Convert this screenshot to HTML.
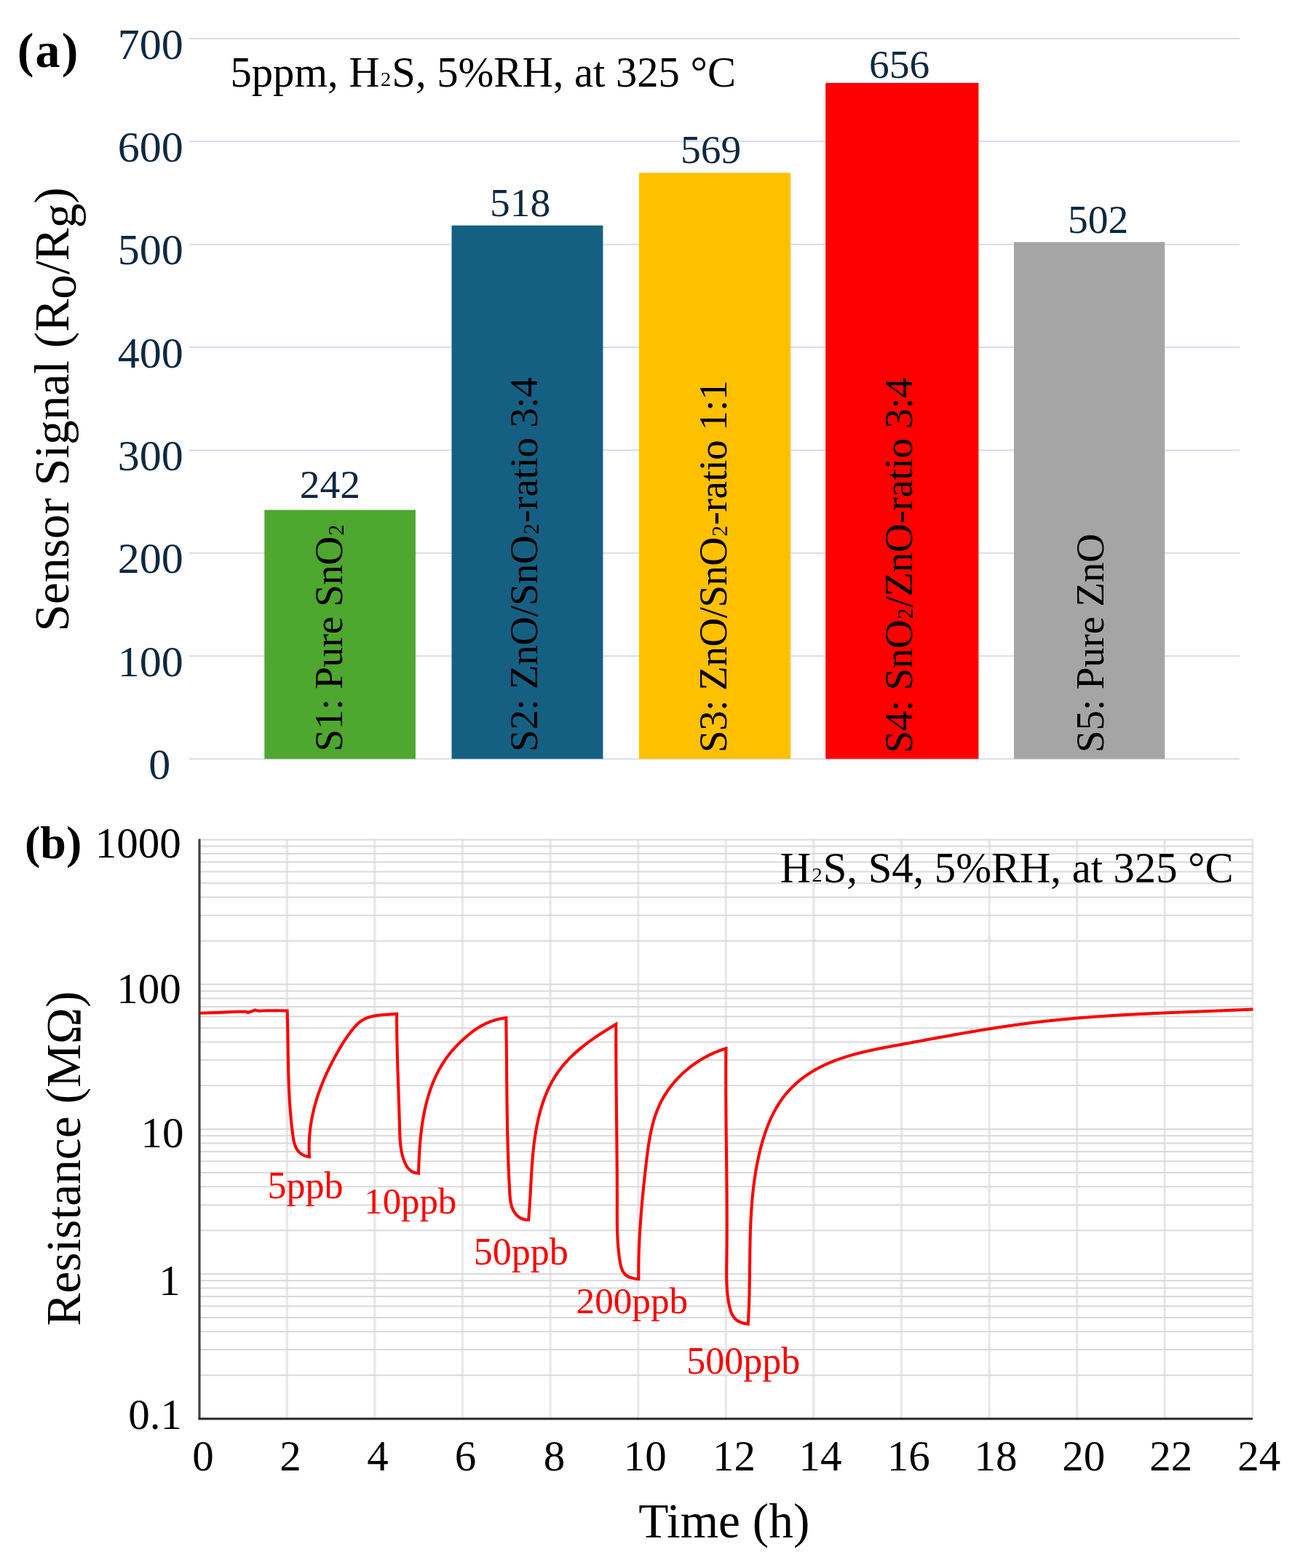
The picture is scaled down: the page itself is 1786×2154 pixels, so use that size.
<!DOCTYPE html>
<html><head><meta charset="utf-8"><style>
html,body{margin:0;padding:0;background:#fff;}
svg{display:block;}
text{font-family:"Liberation Serif","Times New Roman",serif;}
</style></head><body>
<svg width="1786" height="2154" viewBox="0 0 1786 2154">
<rect width="1786" height="2154" fill="#fff"/>
<line x1="259.7" y1="1042.50" x2="1703" y2="1042.50" stroke="#D5DDEC" stroke-width="2"/>
<line x1="259.7" y1="901.13" x2="1703" y2="901.13" stroke="#D5DDEC" stroke-width="2"/>
<line x1="259.7" y1="759.76" x2="1703" y2="759.76" stroke="#D5DDEC" stroke-width="2"/>
<line x1="259.7" y1="618.39" x2="1703" y2="618.39" stroke="#D5DDEC" stroke-width="2"/>
<line x1="259.7" y1="477.02" x2="1703" y2="477.02" stroke="#D5DDEC" stroke-width="2"/>
<line x1="259.7" y1="335.64" x2="1703" y2="335.64" stroke="#D5DDEC" stroke-width="2"/>
<line x1="259.7" y1="194.27" x2="1703" y2="194.27" stroke="#D5DDEC" stroke-width="2"/>
<line x1="259.7" y1="52.90" x2="1703" y2="52.90" stroke="#D5DDEC" stroke-width="2"/>
<rect x="363.3" y="700.50" width="207.60" height="342.00" fill="#4EA72E"/>
<rect x="620.5" y="309.70" width="207.90" height="732.80" fill="#156082"/>
<rect x="877.9" y="237.40" width="208.20" height="805.10" fill="#FFC000"/>
<rect x="1134.2" y="113.90" width="210.20" height="928.60" fill="#FF0000"/>
<rect x="1393.0" y="332.50" width="207.20" height="710.00" fill="#A5A5A5"/>
<text x="161.79" y="928.83" font-size="60" fill="#0E2841">100</text>
<text x="161.79" y="787.46" font-size="60" fill="#0E2841">200</text>
<text x="161.79" y="646.09" font-size="60" fill="#0E2841">300</text>
<text x="161.79" y="504.72" font-size="60" fill="#0E2841">400</text>
<text x="161.79" y="363.34" font-size="60" fill="#0E2841">500</text>
<text x="161.79" y="221.97" font-size="60" fill="#0E2841">600</text>
<text x="161.79" y="80.60" font-size="60" fill="#0E2841">700</text>
<text x="204.31" y="1070.00" font-size="60" fill="#0E2841" >0</text>
<text x="411.66" y="684.00" font-size="55.5" fill="#0E2841" >242</text>
<text x="672.98" y="296.80" font-size="55.5" fill="#0E2841" >518</text>
<text x="935.08" y="224.00" font-size="55.5" fill="#0E2841" >569</text>
<text x="1194.12" y="106.80" font-size="55.5" fill="#0E2841" >656</text>
<text x="1467.08" y="319.60" font-size="55.5" fill="#0E2841" >502</text>
<text transform="translate(470.40,1032.58) rotate(-90)" font-size="55" fill="#000" letter-spacing="-0.33">S1: Pure SnO<tspan font-size="50" dy="-8.7">₂</tspan><tspan dy="8.7"></tspan></text>
<text transform="translate(738.40,1032.88) rotate(-90)" font-size="55" fill="#000" letter-spacing="-0.33">S2: ZnO/SnO<tspan font-size="50" dy="-8.7">₂</tspan><tspan dy="8.7">-ratio 3:4</tspan></text>
<text transform="translate(997.70,1033.88) rotate(-90)" font-size="55" fill="#000" letter-spacing="-0.48">S3: ZnO/SnO<tspan font-size="50" dy="-8.7">₂</tspan><tspan dy="8.7">-ratio 1:1</tspan></text>
<text transform="translate(1253.10,1034.58) rotate(-90)" font-size="55" fill="#000" letter-spacing="-0.29">S4: SnO<tspan font-size="50" dy="-8.7">₂</tspan><tspan dy="8.7">/ZnO-ratio 3:4</tspan></text>
<text transform="translate(1515.60,1033.88) rotate(-90)" font-size="55" fill="#000" letter-spacing="-0.14">S5: Pure ZnO</text>
<text x="316.50" y="119.00" font-size="58.6" fill="#000" >5ppm, H<tspan font-size="48" dy="-9.8">₂</tspan><tspan dy="9.8">S, 5%RH, at 325 °C</tspan></text>
<text x="23.71" y="92.00" font-size="68" fill="#000" font-weight="bold" letter-spacing="2.2">(a)</text>
<text transform="translate(94.00,867.51) rotate(-90)" font-size="67.4" fill="#000">Sensor Signal (R<tspan dy="9.8">o</tspan><tspan dy="-9.8">/R</tspan><tspan dy="9.8">g</tspan><tspan dy="-9.8">)</tspan></text>
<line x1="394.21" y1="1153.4" x2="394.21" y2="1949.00" stroke="#E9E9E9" stroke-width="3.5"/>
<line x1="514.82" y1="1153.4" x2="514.82" y2="1949.00" stroke="#E9E9E9" stroke-width="3.5"/>
<line x1="635.43" y1="1153.4" x2="635.43" y2="1949.00" stroke="#E9E9E9" stroke-width="3.5"/>
<line x1="756.03" y1="1153.4" x2="756.03" y2="1949.00" stroke="#E9E9E9" stroke-width="3.5"/>
<line x1="876.64" y1="1153.4" x2="876.64" y2="1949.00" stroke="#E9E9E9" stroke-width="3.5"/>
<line x1="997.25" y1="1153.4" x2="997.25" y2="1949.00" stroke="#E9E9E9" stroke-width="3.5"/>
<line x1="1117.86" y1="1153.4" x2="1117.86" y2="1949.00" stroke="#E9E9E9" stroke-width="3.5"/>
<line x1="1238.47" y1="1153.4" x2="1238.47" y2="1949.00" stroke="#E9E9E9" stroke-width="3.5"/>
<line x1="1359.08" y1="1153.4" x2="1359.08" y2="1949.00" stroke="#E9E9E9" stroke-width="3.5"/>
<line x1="1479.68" y1="1153.4" x2="1479.68" y2="1949.00" stroke="#E9E9E9" stroke-width="3.5"/>
<line x1="1600.29" y1="1153.4" x2="1600.29" y2="1949.00" stroke="#E9E9E9" stroke-width="3.5"/>
<line x1="1720.90" y1="1153.4" x2="1720.90" y2="1949.00" stroke="#E9E9E9" stroke-width="3.5"/>
<line x1="273.6" y1="1949.00" x2="1720.9" y2="1949.00" stroke="#D9D9D9" stroke-width="2"/>
<line x1="273.6" y1="1889.13" x2="1720.9" y2="1889.13" stroke="#D9D9D9" stroke-width="2"/>
<line x1="273.6" y1="1854.10" x2="1720.9" y2="1854.10" stroke="#D9D9D9" stroke-width="2"/>
<line x1="273.6" y1="1829.25" x2="1720.9" y2="1829.25" stroke="#D9D9D9" stroke-width="2"/>
<line x1="273.6" y1="1809.97" x2="1720.9" y2="1809.97" stroke="#D9D9D9" stroke-width="2"/>
<line x1="273.6" y1="1794.23" x2="1720.9" y2="1794.23" stroke="#D9D9D9" stroke-width="2"/>
<line x1="273.6" y1="1780.91" x2="1720.9" y2="1780.91" stroke="#D9D9D9" stroke-width="2"/>
<line x1="273.6" y1="1769.38" x2="1720.9" y2="1769.38" stroke="#D9D9D9" stroke-width="2"/>
<line x1="273.6" y1="1759.20" x2="1720.9" y2="1759.20" stroke="#D9D9D9" stroke-width="2"/>
<line x1="273.6" y1="1750.10" x2="1720.9" y2="1750.10" stroke="#D9D9D9" stroke-width="2"/>
<line x1="273.6" y1="1690.23" x2="1720.9" y2="1690.23" stroke="#D9D9D9" stroke-width="2"/>
<line x1="273.6" y1="1655.20" x2="1720.9" y2="1655.20" stroke="#D9D9D9" stroke-width="2"/>
<line x1="273.6" y1="1630.35" x2="1720.9" y2="1630.35" stroke="#D9D9D9" stroke-width="2"/>
<line x1="273.6" y1="1611.07" x2="1720.9" y2="1611.07" stroke="#D9D9D9" stroke-width="2"/>
<line x1="273.6" y1="1595.33" x2="1720.9" y2="1595.33" stroke="#D9D9D9" stroke-width="2"/>
<line x1="273.6" y1="1582.01" x2="1720.9" y2="1582.01" stroke="#D9D9D9" stroke-width="2"/>
<line x1="273.6" y1="1570.48" x2="1720.9" y2="1570.48" stroke="#D9D9D9" stroke-width="2"/>
<line x1="273.6" y1="1560.30" x2="1720.9" y2="1560.30" stroke="#D9D9D9" stroke-width="2"/>
<line x1="273.6" y1="1551.20" x2="1720.9" y2="1551.20" stroke="#D9D9D9" stroke-width="2"/>
<line x1="273.6" y1="1491.33" x2="1720.9" y2="1491.33" stroke="#D9D9D9" stroke-width="2"/>
<line x1="273.6" y1="1456.30" x2="1720.9" y2="1456.30" stroke="#D9D9D9" stroke-width="2"/>
<line x1="273.6" y1="1431.45" x2="1720.9" y2="1431.45" stroke="#D9D9D9" stroke-width="2"/>
<line x1="273.6" y1="1412.17" x2="1720.9" y2="1412.17" stroke="#D9D9D9" stroke-width="2"/>
<line x1="273.6" y1="1396.43" x2="1720.9" y2="1396.43" stroke="#D9D9D9" stroke-width="2"/>
<line x1="273.6" y1="1383.11" x2="1720.9" y2="1383.11" stroke="#D9D9D9" stroke-width="2"/>
<line x1="273.6" y1="1371.58" x2="1720.9" y2="1371.58" stroke="#D9D9D9" stroke-width="2"/>
<line x1="273.6" y1="1361.40" x2="1720.9" y2="1361.40" stroke="#D9D9D9" stroke-width="2"/>
<line x1="273.6" y1="1352.30" x2="1720.9" y2="1352.30" stroke="#D9D9D9" stroke-width="2"/>
<line x1="273.6" y1="1292.43" x2="1720.9" y2="1292.43" stroke="#D9D9D9" stroke-width="2"/>
<line x1="273.6" y1="1257.40" x2="1720.9" y2="1257.40" stroke="#D9D9D9" stroke-width="2"/>
<line x1="273.6" y1="1232.55" x2="1720.9" y2="1232.55" stroke="#D9D9D9" stroke-width="2"/>
<line x1="273.6" y1="1213.27" x2="1720.9" y2="1213.27" stroke="#D9D9D9" stroke-width="2"/>
<line x1="273.6" y1="1197.53" x2="1720.9" y2="1197.53" stroke="#D9D9D9" stroke-width="2"/>
<line x1="273.6" y1="1184.21" x2="1720.9" y2="1184.21" stroke="#D9D9D9" stroke-width="2"/>
<line x1="273.6" y1="1172.68" x2="1720.9" y2="1172.68" stroke="#D9D9D9" stroke-width="2"/>
<line x1="273.6" y1="1162.50" x2="1720.9" y2="1162.50" stroke="#D9D9D9" stroke-width="2"/>
<line x1="273.6" y1="1153.40" x2="1720.9" y2="1153.40" stroke="#D9D9D9" stroke-width="2"/>
<line x1="274.0" y1="1152.4" x2="274.0" y2="1950.00" stroke="#404040" stroke-width="3.2"/>
<line x1="272.6" y1="1949.00" x2="1720.9" y2="1949.00" stroke="#262626" stroke-width="3"/>
<path d="M274.80,1391.70 L302.20,1390.90 L326.30,1389.80 L338.30,1389.70 L340.70,1391.00 L344.50,1389.80 L347.20,1388.90 L350.40,1387.40 L354.40,1388.70 L366.50,1388.20 L382.50,1388.20 L394.60,1388.50 L394.65,1390.03 L394.69,1391.56 L394.74,1393.09 L394.78,1394.61 L394.82,1396.14 L394.86,1397.66 L394.90,1399.19 L394.94,1400.71 L394.97,1402.24 L395.01,1403.76 L395.04,1405.28 L395.07,1406.80 L395.10,1408.32 L395.13,1409.84 L395.16,1411.36 L395.19,1412.88 L395.22,1414.39 L395.25,1415.91 L395.27,1417.43 L395.30,1418.94 L395.32,1420.46 L395.35,1421.97 L395.37,1423.49 L395.39,1425.00 L395.42,1426.52 L395.44,1428.03 L395.46,1429.54 L395.48,1431.05 L395.51,1432.56 L395.53,1434.08 L395.55,1435.59 L395.57,1437.10 L395.59,1438.61 L395.62,1440.12 L395.64,1441.63 L395.66,1443.14 L395.68,1444.64 L395.71,1446.15 L395.73,1447.66 L395.75,1449.17 L395.78,1450.68 L395.80,1452.19 L395.83,1453.69 L395.86,1455.20 L395.88,1456.71 L395.91,1458.22 L395.94,1459.72 L395.97,1461.23 L396.00,1462.74 L396.03,1464.25 L396.06,1465.75 L396.09,1467.26 L396.13,1468.77 L396.16,1470.27 L396.20,1471.78 L396.24,1473.29 L396.28,1474.80 L396.32,1476.30 L396.36,1477.81 L396.41,1479.32 L396.45,1480.83 L396.50,1482.33 L396.55,1483.84 L396.60,1485.35 L396.65,1486.86 L396.71,1488.37 L396.76,1489.88 L396.82,1491.39 L396.88,1492.90 L396.94,1494.41 L397.01,1495.92 L397.08,1497.43 L397.14,1498.94 L397.22,1500.45 L397.29,1501.96 L397.37,1503.47 L397.44,1504.98 L397.53,1506.50 L397.61,1508.01 L397.70,1509.52 L397.78,1511.04 L397.88,1512.55 L397.97,1514.07 L398.07,1515.58 L398.17,1517.10 L398.27,1518.62 L398.38,1520.14 L398.49,1521.65 L398.60,1523.17 L398.71,1524.69 L398.83,1526.21 L398.95,1527.73 L399.08,1529.26 L399.21,1530.78 L399.34,1532.30 L399.48,1533.82 L399.61,1535.35 L399.76,1536.87 L399.90,1538.40 L400.05,1539.93 L400.21,1541.45 L400.37,1542.98 L400.53,1544.51 L400.69,1546.04 L400.86,1547.57 L401.04,1549.11 L401.21,1550.64 L401.40,1552.17 L401.58,1553.71 L401.77,1555.24 L401.97,1556.78 L402.17,1558.32 L402.37,1559.86 L402.59,1561.39 L402.82,1562.91 L403.07,1564.43 L403.35,1565.93 L403.65,1567.41 L403.99,1568.88 L404.36,1570.32 L404.77,1571.73 L405.23,1573.12 L405.73,1574.47 L406.29,1575.79 L406.90,1577.06 L407.58,1578.30 L408.32,1579.48 L409.13,1580.62 L410.01,1581.71 L410.97,1582.74 L412.01,1583.72 L413.14,1584.63 L414.35,1585.48 L415.66,1586.26 L417.06,1586.96 L418.52,1587.58 L420.06,1588.11 L421.66,1588.55 L423.31,1588.88 L425.00,1589.10 L424.91,1587.54 L424.83,1585.98 L424.77,1584.42 L424.71,1582.87 L424.67,1581.32 L424.64,1579.77 L424.62,1578.22 L424.61,1576.68 L424.62,1575.14 L424.63,1573.60 L424.66,1572.07 L424.70,1570.53 L424.75,1569.00 L424.81,1567.48 L424.88,1565.95 L424.96,1564.43 L425.05,1562.91 L425.16,1561.39 L425.27,1559.88 L425.40,1558.37 L425.53,1556.86 L425.68,1555.35 L425.83,1553.85 L426.00,1552.34 L426.18,1550.85 L426.37,1549.35 L426.57,1547.86 L426.77,1546.36 L426.99,1544.87 L427.22,1543.39 L427.46,1541.90 L427.71,1540.42 L427.96,1538.94 L428.23,1537.47 L428.51,1535.99 L428.80,1534.52 L429.09,1533.05 L429.40,1531.58 L429.71,1530.12 L430.04,1528.66 L430.37,1527.20 L430.72,1525.74 L431.07,1524.29 L431.43,1522.83 L431.80,1521.38 L432.18,1519.94 L432.57,1518.49 L432.96,1517.05 L433.37,1515.61 L433.78,1514.17 L434.21,1512.73 L434.64,1511.30 L435.08,1509.86 L435.52,1508.43 L435.98,1507.01 L436.44,1505.58 L436.92,1504.16 L437.40,1502.74 L437.89,1501.32 L438.38,1499.90 L438.89,1498.49 L439.40,1497.08 L439.92,1495.67 L440.45,1494.26 L440.98,1492.86 L441.53,1491.45 L442.08,1490.05 L442.64,1488.66 L443.20,1487.26 L443.77,1485.86 L444.35,1484.47 L444.94,1483.08 L445.53,1481.69 L446.14,1480.31 L446.74,1478.92 L447.36,1477.54 L447.98,1476.16 L448.61,1474.78 L449.24,1473.41 L449.88,1472.04 L450.53,1470.66 L451.19,1469.29 L451.85,1467.93 L452.52,1466.56 L453.19,1465.20 L453.87,1463.84 L454.55,1462.48 L455.25,1461.12 L455.94,1459.76 L456.65,1458.41 L457.36,1457.06 L458.07,1455.71 L458.79,1454.36 L459.52,1453.01 L460.25,1451.67 L460.99,1450.33 L461.73,1448.99 L462.48,1447.65 L463.23,1446.31 L463.99,1444.98 L464.76,1443.64 L465.53,1442.31 L466.30,1440.98 L467.08,1439.66 L467.87,1438.34 L468.66,1437.02 L469.46,1435.70 L470.26,1434.39 L471.07,1433.08 L471.89,1431.78 L472.71,1430.49 L473.54,1429.20 L474.38,1427.92 L475.23,1426.65 L476.08,1425.39 L476.94,1424.13 L477.82,1422.89 L478.69,1421.65 L479.58,1420.43 L480.48,1419.21 L481.39,1418.01 L482.30,1416.82 L483.23,1415.64 L484.17,1414.47 L485.11,1413.32 L486.07,1412.18 L487.04,1411.05 L488.02,1409.95 L489.01,1408.86 L490.03,1407.80 L491.06,1406.77 L492.12,1405.78 L493.20,1404.82 L494.31,1403.90 L495.45,1403.02 L496.62,1402.19 L497.83,1401.41 L499.07,1400.68 L500.34,1400.01 L501.65,1399.38 L502.98,1398.80 L504.35,1398.26 L505.74,1397.77 L507.15,1397.31 L508.59,1396.89 L510.04,1396.51 L511.52,1396.16 L513.01,1395.84 L514.52,1395.56 L516.04,1395.30 L517.58,1395.06 L519.12,1394.85 L520.67,1394.66 L522.23,1394.49 L523.79,1394.33 L525.36,1394.19 L526.92,1394.06 L528.49,1393.94 L530.05,1393.83 L531.61,1393.72 L533.16,1393.62 L534.70,1393.52 L536.23,1393.42 L537.75,1393.32 L539.25,1393.21 L540.74,1393.10 L542.22,1392.98 L543.67,1392.85 L545.10,1392.70 L545.10,1394.24 L545.09,1395.77 L545.09,1397.31 L545.09,1398.84 L545.10,1400.37 L545.10,1401.91 L545.11,1403.44 L545.11,1404.96 L545.12,1406.49 L545.13,1408.02 L545.14,1409.55 L545.16,1411.07 L545.17,1412.59 L545.19,1414.12 L545.20,1415.64 L545.22,1417.16 L545.24,1418.68 L545.26,1420.20 L545.28,1421.72 L545.31,1423.24 L545.33,1424.75 L545.36,1426.27 L545.38,1427.79 L545.41,1429.30 L545.44,1430.82 L545.47,1432.33 L545.50,1433.84 L545.53,1435.36 L545.56,1436.87 L545.60,1438.38 L545.63,1439.89 L545.67,1441.40 L545.70,1442.91 L545.74,1444.42 L545.78,1445.93 L545.82,1447.44 L545.86,1448.95 L545.90,1450.46 L545.94,1451.96 L545.98,1453.47 L546.02,1454.98 L546.07,1456.49 L546.11,1457.99 L546.15,1459.50 L546.20,1461.01 L546.25,1462.51 L546.29,1464.02 L546.34,1465.53 L546.39,1467.03 L546.43,1468.54 L546.48,1470.05 L546.53,1471.55 L546.58,1473.06 L546.63,1474.57 L546.68,1476.07 L546.73,1477.58 L546.78,1479.09 L546.83,1480.60 L546.88,1482.10 L546.93,1483.61 L546.98,1485.12 L547.03,1486.63 L547.08,1488.14 L547.14,1489.65 L547.19,1491.16 L547.24,1492.67 L547.29,1494.18 L547.34,1495.69 L547.39,1497.20 L547.45,1498.71 L547.50,1500.22 L547.55,1501.73 L547.60,1503.25 L547.65,1504.76 L547.71,1506.28 L547.76,1507.79 L547.81,1509.31 L547.86,1510.83 L547.91,1512.34 L547.96,1513.86 L548.01,1515.38 L548.06,1516.90 L548.11,1518.42 L548.16,1519.94 L548.21,1521.47 L548.26,1522.99 L548.30,1524.51 L548.35,1526.04 L548.40,1527.57 L548.44,1529.09 L548.49,1530.62 L548.54,1532.15 L548.58,1533.68 L548.63,1535.21 L548.67,1536.75 L548.71,1538.28 L548.75,1539.82 L548.80,1541.35 L548.84,1542.89 L548.88,1544.43 L548.92,1545.97 L548.96,1547.51 L548.99,1549.06 L549.03,1550.60 L549.07,1552.14 L549.12,1553.69 L549.16,1555.23 L549.22,1556.77 L549.27,1558.32 L549.34,1559.86 L549.41,1561.40 L549.49,1562.94 L549.58,1564.47 L549.68,1566.00 L549.80,1567.53 L549.92,1569.06 L550.06,1570.58 L550.22,1572.10 L550.39,1573.61 L550.57,1575.12 L550.78,1576.62 L551.00,1578.12 L551.24,1579.61 L551.51,1581.09 L551.79,1582.57 L552.10,1584.04 L552.43,1585.51 L552.79,1586.96 L553.17,1588.41 L553.58,1589.85 L554.02,1591.28 L554.48,1592.70 L554.98,1594.11 L555.51,1595.51 L556.07,1596.89 L556.67,1598.25 L557.32,1599.57 L558.02,1600.86 L558.77,1602.11 L559.57,1603.31 L560.43,1604.46 L561.36,1605.55 L562.35,1606.58 L563.42,1607.53 L564.56,1608.40 L565.78,1609.19 L567.08,1609.88 L568.47,1610.47 L569.96,1610.96 L571.54,1611.33 L573.22,1611.58 L575.00,1611.70 L575.04,1610.22 L575.08,1608.74 L575.13,1607.26 L575.18,1605.77 L575.23,1604.28 L575.28,1602.79 L575.33,1601.30 L575.39,1599.81 L575.44,1598.31 L575.50,1596.81 L575.57,1595.31 L575.63,1593.81 L575.70,1592.31 L575.78,1590.80 L575.85,1589.30 L575.93,1587.79 L576.01,1586.28 L576.10,1584.77 L576.19,1583.26 L576.28,1581.74 L576.37,1580.23 L576.48,1578.72 L576.58,1577.20 L576.69,1575.69 L576.80,1574.17 L576.92,1572.65 L577.04,1571.14 L577.17,1569.62 L577.30,1568.10 L577.43,1566.58 L577.57,1565.07 L577.72,1563.55 L577.87,1562.03 L578.03,1560.52 L578.19,1559.00 L578.35,1557.48 L578.53,1555.97 L578.70,1554.45 L578.89,1552.94 L579.08,1551.43 L579.27,1549.92 L579.48,1548.40 L579.68,1546.89 L579.90,1545.39 L580.12,1543.88 L580.35,1542.37 L580.58,1540.87 L580.82,1539.36 L581.07,1537.86 L581.32,1536.36 L581.58,1534.87 L581.85,1533.37 L582.13,1531.88 L582.41,1530.39 L582.70,1528.90 L583.00,1527.41 L583.31,1525.93 L583.62,1524.44 L583.95,1522.96 L584.28,1521.49 L584.62,1520.01 L584.96,1518.54 L585.32,1517.07 L585.68,1515.61 L586.05,1514.15 L586.44,1512.69 L586.83,1511.23 L587.22,1509.78 L587.63,1508.33 L588.05,1506.89 L588.48,1505.45 L588.91,1504.01 L589.36,1502.58 L589.81,1501.15 L590.28,1499.72 L590.75,1498.30 L591.24,1496.89 L591.73,1495.47 L592.24,1494.07 L592.75,1492.66 L593.28,1491.26 L593.81,1489.87 L594.36,1488.48 L594.92,1487.10 L595.49,1485.72 L596.07,1484.34 L596.66,1482.97 L597.26,1481.61 L597.87,1480.25 L598.49,1478.90 L599.13,1477.55 L599.78,1476.21 L600.44,1474.87 L601.11,1473.54 L601.79,1472.22 L602.48,1470.90 L603.19,1469.59 L603.91,1468.28 L604.64,1466.98 L605.38,1465.69 L606.14,1464.40 L606.91,1463.12 L607.69,1461.85 L608.49,1460.58 L609.29,1459.32 L610.11,1458.07 L610.95,1456.82 L611.80,1455.58 L612.66,1454.35 L613.53,1453.12 L614.42,1451.91 L615.32,1450.70 L616.24,1449.49 L617.17,1448.30 L618.11,1447.11 L619.07,1445.93 L620.04,1444.76 L621.03,1443.60 L622.02,1442.45 L623.03,1441.30 L624.05,1440.16 L625.09,1439.03 L626.13,1437.91 L627.18,1436.80 L628.25,1435.70 L629.32,1434.60 L630.40,1433.52 L631.49,1432.44 L632.59,1431.37 L633.70,1430.32 L634.81,1429.27 L635.94,1428.23 L637.06,1427.20 L638.20,1426.18 L639.34,1425.17 L640.49,1424.17 L641.64,1423.19 L642.80,1422.21 L643.97,1421.25 L645.15,1420.30 L646.33,1419.36 L647.52,1418.44 L648.72,1417.53 L649.92,1416.64 L651.13,1415.76 L652.35,1414.90 L653.58,1414.05 L654.82,1413.23 L656.07,1412.41 L657.32,1411.62 L658.59,1410.85 L659.86,1410.09 L661.15,1409.35 L662.44,1408.64 L663.75,1407.94 L665.06,1407.26 L666.39,1406.61 L667.72,1405.97 L669.07,1405.36 L670.42,1404.77 L671.79,1404.20 L673.17,1403.65 L674.56,1403.12 L675.96,1402.62 L677.38,1402.14 L678.80,1401.69 L680.24,1401.25 L681.69,1400.85 L683.15,1400.46 L684.62,1400.10 L686.11,1399.77 L687.61,1399.46 L689.12,1399.17 L690.64,1398.92 L692.18,1398.68 L693.73,1398.48 L695.30,1398.30 L695.32,1399.82 L695.35,1401.35 L695.37,1402.87 L695.39,1404.39 L695.41,1405.91 L695.43,1407.43 L695.45,1408.95 L695.47,1410.47 L695.49,1411.99 L695.51,1413.50 L695.53,1415.02 L695.55,1416.54 L695.57,1418.05 L695.59,1419.57 L695.61,1421.09 L695.62,1422.60 L695.64,1424.12 L695.66,1425.63 L695.67,1427.14 L695.69,1428.66 L695.71,1430.17 L695.72,1431.68 L695.74,1433.19 L695.75,1434.70 L695.77,1436.22 L695.78,1437.73 L695.80,1439.24 L695.81,1440.75 L695.83,1442.26 L695.84,1443.76 L695.85,1445.27 L695.87,1446.78 L695.88,1448.29 L695.89,1449.80 L695.91,1451.31 L695.92,1452.81 L695.93,1454.32 L695.95,1455.83 L695.96,1457.33 L695.97,1458.84 L695.99,1460.34 L696.00,1461.85 L696.01,1463.36 L696.03,1464.86 L696.04,1466.37 L696.05,1467.87 L696.07,1469.37 L696.08,1470.88 L696.09,1472.38 L696.11,1473.89 L696.12,1475.39 L696.13,1476.89 L696.15,1478.40 L696.16,1479.90 L696.17,1481.40 L696.19,1482.90 L696.20,1484.41 L696.21,1485.91 L696.23,1487.41 L696.24,1488.91 L696.26,1490.42 L696.27,1491.92 L696.29,1493.42 L696.30,1494.92 L696.32,1496.43 L696.33,1497.93 L696.35,1499.43 L696.36,1500.93 L696.38,1502.43 L696.40,1503.93 L696.41,1505.44 L696.43,1506.94 L696.45,1508.44 L696.47,1509.94 L696.48,1511.44 L696.50,1512.94 L696.52,1514.45 L696.54,1515.95 L696.56,1517.45 L696.58,1518.95 L696.60,1520.45 L696.62,1521.96 L696.64,1523.46 L696.66,1524.96 L696.69,1526.46 L696.71,1527.96 L696.73,1529.47 L696.75,1530.97 L696.78,1532.47 L696.80,1533.98 L696.83,1535.48 L696.85,1536.98 L696.88,1538.49 L696.90,1539.99 L696.93,1541.49 L696.96,1543.00 L696.99,1544.50 L697.01,1546.01 L697.04,1547.51 L697.07,1549.02 L697.10,1550.52 L697.13,1552.03 L697.17,1553.53 L697.20,1555.04 L697.23,1556.54 L697.27,1558.05 L697.30,1559.56 L697.33,1561.06 L697.37,1562.57 L697.41,1564.08 L697.44,1565.59 L697.48,1567.09 L697.52,1568.60 L697.56,1570.11 L697.60,1571.62 L697.64,1573.13 L697.68,1574.64 L697.72,1576.15 L697.77,1577.66 L697.81,1579.17 L697.85,1580.68 L697.90,1582.20 L697.95,1583.71 L697.99,1585.22 L698.04,1586.74 L698.09,1588.25 L698.14,1589.76 L698.19,1591.28 L698.24,1592.79 L698.30,1594.31 L698.35,1595.82 L698.40,1597.34 L698.46,1598.86 L698.52,1600.38 L698.57,1601.89 L698.63,1603.41 L698.69,1604.93 L698.75,1606.45 L698.81,1607.97 L698.88,1609.49 L698.94,1611.01 L699.00,1612.54 L699.07,1614.06 L699.14,1615.58 L699.20,1617.10 L699.27,1618.63 L699.34,1620.15 L699.41,1621.68 L699.49,1623.21 L699.56,1624.73 L699.63,1626.26 L699.71,1627.79 L699.79,1629.32 L699.87,1630.85 L699.94,1632.38 L700.02,1633.91 L700.11,1635.44 L700.19,1636.97 L700.28,1638.50 L700.37,1640.03 L700.47,1641.56 L700.59,1643.08 L700.72,1644.60 L700.87,1646.10 L701.04,1647.60 L701.24,1649.09 L701.47,1650.56 L701.73,1652.02 L702.03,1653.46 L702.37,1654.89 L702.74,1656.29 L703.17,1657.68 L703.64,1659.04 L704.17,1660.38 L704.75,1661.69 L705.39,1662.98 L706.09,1664.24 L706.85,1665.46 L707.68,1666.64 L708.58,1667.78 L709.54,1668.87 L710.56,1669.91 L711.66,1670.88 L712.82,1671.78 L714.05,1672.61 L715.34,1673.35 L716.70,1674.01 L718.11,1674.57 L719.59,1675.02 L721.13,1675.37 L722.73,1675.61 L724.39,1675.72 L726.10,1675.70 L726.24,1674.24 L726.37,1672.78 L726.50,1671.32 L726.62,1669.85 L726.74,1668.38 L726.86,1666.91 L726.98,1665.44 L727.09,1663.96 L727.20,1662.48 L727.31,1661.00 L727.41,1659.52 L727.52,1658.03 L727.62,1656.54 L727.72,1655.05 L727.81,1653.56 L727.91,1652.07 L728.00,1650.57 L728.09,1649.07 L728.18,1647.57 L728.27,1646.07 L728.36,1644.57 L728.44,1643.06 L728.53,1641.55 L728.61,1640.04 L728.69,1638.53 L728.78,1637.02 L728.86,1635.51 L728.94,1633.99 L729.02,1632.48 L729.11,1630.96 L729.19,1629.44 L729.27,1627.93 L729.35,1626.41 L729.44,1624.88 L729.52,1623.36 L729.60,1621.84 L729.69,1620.32 L729.77,1618.79 L729.86,1617.27 L729.95,1615.74 L730.04,1614.22 L730.13,1612.69 L730.23,1611.17 L730.32,1609.64 L730.42,1608.11 L730.52,1606.59 L730.62,1605.06 L730.72,1603.53 L730.83,1602.00 L730.93,1600.48 L731.05,1598.95 L731.16,1597.42 L731.28,1595.90 L731.40,1594.37 L731.52,1592.84 L731.64,1591.32 L731.77,1589.79 L731.91,1588.27 L732.04,1586.75 L732.19,1585.22 L732.33,1583.70 L732.48,1582.18 L732.63,1580.66 L732.79,1579.14 L732.95,1577.62 L733.12,1576.11 L733.29,1574.59 L733.47,1573.07 L733.65,1571.56 L733.83,1570.05 L734.03,1568.54 L734.22,1567.03 L734.43,1565.52 L734.63,1564.01 L734.85,1562.51 L735.07,1561.01 L735.29,1559.50 L735.53,1558.01 L735.76,1556.51 L736.01,1555.01 L736.26,1553.52 L736.52,1552.03 L736.78,1550.54 L737.06,1549.05 L737.34,1547.57 L737.62,1546.08 L737.92,1544.60 L738.22,1543.13 L738.52,1541.65 L738.84,1540.18 L739.17,1538.71 L739.50,1537.24 L739.84,1535.78 L740.19,1534.31 L740.54,1532.86 L740.91,1531.40 L741.28,1529.95 L741.67,1528.50 L742.06,1527.05 L742.46,1525.61 L742.87,1524.17 L743.29,1522.73 L743.72,1521.30 L744.16,1519.87 L744.61,1518.44 L745.06,1517.02 L745.53,1515.60 L746.01,1514.19 L746.50,1512.77 L747.00,1511.37 L747.50,1509.96 L748.02,1508.56 L748.55,1507.17 L749.10,1505.78 L749.65,1504.39 L750.21,1503.01 L750.78,1501.63 L751.37,1500.26 L751.97,1498.89 L752.58,1497.53 L753.20,1496.18 L753.83,1494.83 L754.47,1493.49 L755.13,1492.15 L755.80,1490.82 L756.48,1489.49 L757.17,1488.18 L757.88,1486.87 L758.59,1485.56 L759.33,1484.27 L760.07,1482.98 L760.83,1481.70 L761.60,1480.42 L762.38,1479.16 L763.18,1477.90 L763.99,1476.65 L764.81,1475.41 L765.65,1474.18 L766.50,1472.95 L767.37,1471.74 L768.24,1470.53 L769.13,1469.33 L770.04,1468.14 L770.95,1466.96 L771.88,1465.78 L772.82,1464.62 L773.77,1463.46 L774.74,1462.31 L775.71,1461.17 L776.70,1460.04 L777.70,1458.92 L778.71,1457.80 L779.73,1456.70 L780.77,1455.60 L781.81,1454.51 L782.87,1453.43 L783.93,1452.36 L785.01,1451.30 L786.09,1450.25 L787.19,1449.20 L788.30,1448.16 L789.41,1447.13 L790.54,1446.11 L791.67,1445.10 L792.82,1444.10 L793.97,1443.10 L795.13,1442.11 L796.29,1441.13 L797.47,1440.15 L798.65,1439.19 L799.84,1438.23 L801.04,1437.28 L802.24,1436.33 L803.45,1435.40 L804.66,1434.46 L805.88,1433.54 L807.11,1432.62 L808.34,1431.71 L809.58,1430.81 L810.82,1429.91 L812.06,1429.02 L813.31,1428.14 L814.56,1427.26 L815.82,1426.39 L817.08,1425.52 L818.34,1424.66 L819.61,1423.80 L820.87,1422.95 L822.14,1422.11 L823.41,1421.27 L824.69,1420.44 L825.96,1419.61 L827.24,1418.79 L828.51,1417.97 L829.79,1417.16 L831.06,1416.35 L832.34,1415.55 L833.62,1414.75 L834.89,1413.96 L836.17,1413.17 L837.44,1412.38 L838.71,1411.60 L839.98,1410.82 L841.25,1410.05 L842.52,1409.28 L843.78,1408.52 L845.04,1407.76 L846.30,1407.00 L846.29,1408.51 L846.29,1410.02 L846.29,1411.53 L846.28,1413.04 L846.28,1414.55 L846.27,1416.06 L846.27,1417.56 L846.27,1419.07 L846.27,1420.58 L846.27,1422.09 L846.27,1423.60 L846.27,1425.11 L846.27,1426.62 L846.27,1428.13 L846.27,1429.64 L846.27,1431.15 L846.27,1432.66 L846.27,1434.17 L846.28,1435.68 L846.28,1437.19 L846.28,1438.70 L846.29,1440.21 L846.29,1441.72 L846.30,1443.23 L846.30,1444.74 L846.31,1446.25 L846.31,1447.76 L846.32,1449.27 L846.32,1450.78 L846.33,1452.29 L846.34,1453.80 L846.35,1455.31 L846.35,1456.82 L846.36,1458.33 L846.37,1459.84 L846.38,1461.35 L846.39,1462.86 L846.40,1464.37 L846.41,1465.88 L846.42,1467.39 L846.43,1468.90 L846.44,1470.41 L846.45,1471.92 L846.46,1473.43 L846.47,1474.94 L846.48,1476.45 L846.49,1477.96 L846.50,1479.47 L846.52,1480.98 L846.53,1482.49 L846.54,1484.00 L846.55,1485.52 L846.57,1487.03 L846.58,1488.54 L846.59,1490.05 L846.61,1491.56 L846.62,1493.07 L846.63,1494.58 L846.65,1496.09 L846.66,1497.60 L846.67,1499.11 L846.69,1500.62 L846.70,1502.13 L846.72,1503.64 L846.73,1505.15 L846.75,1506.66 L846.76,1508.17 L846.78,1509.68 L846.79,1511.19 L846.81,1512.71 L846.82,1514.22 L846.84,1515.73 L846.85,1517.24 L846.87,1518.75 L846.89,1520.26 L846.90,1521.77 L846.92,1523.28 L846.93,1524.79 L846.95,1526.30 L846.97,1527.81 L846.98,1529.32 L847.00,1530.83 L847.01,1532.34 L847.03,1533.85 L847.05,1535.37 L847.06,1536.88 L847.08,1538.39 L847.09,1539.90 L847.11,1541.41 L847.13,1542.92 L847.14,1544.43 L847.16,1545.94 L847.17,1547.45 L847.19,1548.96 L847.21,1550.47 L847.22,1551.98 L847.24,1553.49 L847.25,1555.00 L847.27,1556.51 L847.28,1558.02 L847.30,1559.53 L847.32,1561.04 L847.33,1562.56 L847.35,1564.07 L847.36,1565.58 L847.38,1567.09 L847.39,1568.60 L847.41,1570.11 L847.42,1571.62 L847.43,1573.13 L847.45,1574.64 L847.46,1576.15 L847.48,1577.66 L847.49,1579.17 L847.50,1580.68 L847.52,1582.19 L847.53,1583.70 L847.54,1585.21 L847.56,1586.72 L847.57,1588.23 L847.58,1589.74 L847.59,1591.25 L847.61,1592.76 L847.62,1594.27 L847.63,1595.78 L847.64,1597.29 L847.65,1598.80 L847.66,1600.31 L847.67,1601.82 L847.68,1603.33 L847.70,1604.84 L847.71,1606.35 L847.71,1607.86 L847.72,1609.37 L847.73,1610.88 L847.74,1612.39 L847.75,1613.90 L847.76,1615.41 L847.77,1616.92 L847.77,1618.43 L847.78,1619.94 L847.79,1621.45 L847.79,1622.96 L847.80,1624.47 L847.81,1625.98 L847.81,1627.49 L847.82,1629.00 L847.82,1630.51 L847.83,1632.01 L847.83,1633.52 L847.83,1635.03 L847.84,1636.54 L847.84,1638.05 L847.84,1639.56 L847.85,1641.07 L847.85,1642.58 L847.85,1644.09 L847.85,1645.60 L847.85,1647.11 L847.85,1648.61 L847.85,1650.12 L847.85,1651.63 L847.85,1653.14 L847.85,1654.65 L847.84,1656.16 L847.84,1657.67 L847.84,1659.18 L847.83,1660.68 L847.83,1662.19 L847.83,1663.70 L847.83,1665.21 L847.83,1666.72 L847.83,1668.23 L847.83,1669.74 L847.83,1671.24 L847.83,1672.75 L847.84,1674.26 L847.85,1675.77 L847.86,1677.28 L847.87,1678.79 L847.88,1680.30 L847.90,1681.81 L847.92,1683.31 L847.95,1684.82 L847.97,1686.33 L848.01,1687.84 L848.04,1689.35 L848.08,1690.86 L848.13,1692.37 L848.18,1693.88 L848.23,1695.39 L848.29,1696.90 L848.35,1698.41 L848.42,1699.92 L848.50,1701.43 L848.58,1702.95 L848.67,1704.46 L848.76,1705.97 L848.86,1707.48 L848.97,1708.99 L849.08,1710.50 L849.20,1712.02 L849.33,1713.53 L849.47,1715.04 L849.61,1716.56 L849.77,1718.07 L849.93,1719.58 L850.09,1721.10 L850.27,1722.61 L850.46,1724.13 L850.66,1725.64 L850.86,1727.16 L851.07,1728.67 L851.30,1730.19 L851.53,1731.70 L851.78,1733.22 L852.05,1734.73 L852.33,1736.22 L852.65,1737.71 L853.00,1739.16 L853.40,1740.60 L853.84,1742.00 L854.33,1743.36 L854.88,1744.68 L855.49,1745.96 L856.17,1747.18 L856.93,1748.34 L857.77,1749.45 L858.70,1750.48 L859.71,1751.44 L860.83,1752.33 L862.05,1753.13 L863.38,1753.85 L864.82,1754.47 L866.35,1755.01 L867.93,1755.47 L869.56,1755.86 L871.19,1756.19 L872.80,1756.46 L874.38,1756.68 L875.89,1756.86 L877.30,1757.00 L877.29,1755.48 L877.28,1753.96 L877.27,1752.44 L877.27,1750.92 L877.26,1749.40 L877.27,1747.88 L877.27,1746.37 L877.28,1744.85 L877.29,1743.33 L877.30,1741.82 L877.31,1740.30 L877.33,1738.79 L877.35,1737.28 L877.37,1735.77 L877.40,1734.25 L877.42,1732.74 L877.45,1731.23 L877.49,1729.72 L877.52,1728.21 L877.56,1726.71 L877.60,1725.20 L877.64,1723.69 L877.69,1722.18 L877.73,1720.68 L877.78,1719.17 L877.84,1717.66 L877.89,1716.16 L877.95,1714.65 L878.01,1713.15 L878.07,1711.64 L878.13,1710.14 L878.20,1708.64 L878.26,1707.13 L878.33,1705.63 L878.41,1704.13 L878.48,1702.63 L878.56,1701.12 L878.64,1699.62 L878.72,1698.12 L878.80,1696.62 L878.88,1695.12 L878.97,1693.62 L879.06,1692.12 L879.15,1690.62 L879.24,1689.12 L879.34,1687.62 L879.43,1686.12 L879.53,1684.62 L879.63,1683.12 L879.74,1681.62 L879.84,1680.12 L879.95,1678.62 L880.05,1677.12 L880.16,1675.62 L880.28,1674.12 L880.39,1672.62 L880.50,1671.12 L880.62,1669.62 L880.74,1668.12 L880.86,1666.62 L880.98,1665.12 L881.10,1663.62 L881.23,1662.12 L881.35,1660.63 L881.48,1659.12 L881.61,1657.62 L881.74,1656.12 L881.88,1654.62 L882.01,1653.12 L882.15,1651.62 L882.28,1650.12 L882.42,1648.62 L882.56,1647.12 L882.70,1645.62 L882.85,1644.11 L882.99,1642.61 L883.13,1641.11 L883.28,1639.60 L883.43,1638.10 L883.58,1636.60 L883.73,1635.09 L883.88,1633.59 L884.03,1632.08 L884.19,1630.58 L884.34,1629.07 L884.50,1627.56 L884.66,1626.06 L884.82,1624.55 L884.98,1623.04 L885.14,1621.53 L885.30,1620.02 L885.46,1618.52 L885.62,1617.01 L885.79,1615.49 L885.96,1613.98 L886.12,1612.47 L886.29,1610.96 L886.46,1609.45 L886.63,1607.93 L886.80,1606.42 L886.97,1604.90 L887.14,1603.39 L887.32,1601.87 L887.49,1600.35 L887.66,1598.84 L887.84,1597.32 L888.02,1595.80 L888.19,1594.28 L888.37,1592.76 L888.56,1591.24 L888.74,1589.72 L888.93,1588.20 L889.12,1586.68 L889.31,1585.16 L889.50,1583.64 L889.70,1582.12 L889.91,1580.61 L890.11,1579.09 L890.32,1577.58 L890.54,1576.06 L890.76,1574.55 L890.99,1573.04 L891.22,1571.53 L891.46,1570.03 L891.70,1568.52 L891.95,1567.02 L892.20,1565.52 L892.47,1564.02 L892.73,1562.53 L893.01,1561.03 L893.29,1559.54 L893.59,1558.06 L893.89,1556.57 L894.19,1555.09 L894.51,1553.61 L894.83,1552.14 L895.17,1550.67 L895.51,1549.20 L895.86,1547.74 L896.23,1546.28 L896.60,1544.83 L896.98,1543.38 L897.38,1541.93 L897.78,1540.49 L898.20,1539.05 L898.62,1537.62 L899.06,1536.19 L899.51,1534.77 L899.97,1533.36 L900.45,1531.95 L900.94,1530.54 L901.44,1529.14 L901.95,1527.75 L902.48,1526.36 L903.02,1524.98 L903.57,1523.60 L904.14,1522.23 L904.73,1520.87 L905.33,1519.51 L905.94,1518.17 L906.57,1516.82 L907.21,1515.49 L907.87,1514.16 L908.55,1512.84 L909.24,1511.53 L909.94,1510.22 L910.66,1508.92 L911.40,1507.63 L912.15,1506.35 L912.91,1505.07 L913.69,1503.81 L914.48,1502.55 L915.29,1501.30 L916.11,1500.05 L916.95,1498.82 L917.79,1497.59 L918.66,1496.38 L919.53,1495.17 L920.42,1493.97 L921.32,1492.78 L922.24,1491.60 L923.17,1490.42 L924.11,1489.26 L925.06,1488.10 L926.03,1486.96 L927.01,1485.82 L928.00,1484.70 L929.00,1483.58 L930.01,1482.47 L931.04,1481.38 L932.08,1480.29 L933.13,1479.21 L934.19,1478.14 L935.26,1477.09 L936.35,1476.04 L937.44,1475.01 L938.55,1473.98 L939.66,1472.96 L940.79,1471.96 L941.93,1470.97 L943.08,1469.98 L944.24,1469.01 L945.40,1468.05 L946.58,1467.10 L947.77,1466.17 L948.97,1465.24 L950.18,1464.32 L951.39,1463.42 L952.62,1462.53 L953.85,1461.65 L955.10,1460.78 L956.35,1459.92 L957.61,1459.08 L958.88,1458.25 L960.16,1457.43 L961.45,1456.62 L962.74,1455.83 L964.05,1455.04 L965.36,1454.27 L966.68,1453.52 L968.01,1452.77 L969.34,1452.04 L970.68,1451.33 L972.03,1450.62 L973.39,1449.93 L974.75,1449.25 L976.12,1448.59 L977.50,1447.94 L978.88,1447.30 L980.27,1446.67 L981.67,1446.07 L983.07,1445.47 L984.48,1444.89 L985.89,1444.32 L987.31,1443.77 L988.74,1443.23 L990.17,1442.70 L991.60,1442.19 L993.05,1441.70 L994.49,1441.22 L995.94,1440.75 L997.40,1440.30 L997.38,1441.81 L997.37,1443.32 L997.36,1444.82 L997.34,1446.33 L997.33,1447.84 L997.32,1449.35 L997.31,1450.86 L997.29,1452.36 L997.28,1453.87 L997.28,1455.38 L997.27,1456.89 L997.26,1458.39 L997.25,1459.90 L997.24,1461.41 L997.24,1462.91 L997.23,1464.42 L997.23,1465.93 L997.22,1467.44 L997.22,1468.94 L997.21,1470.45 L997.21,1471.96 L997.21,1473.46 L997.21,1474.97 L997.21,1476.48 L997.20,1477.98 L997.20,1479.49 L997.20,1480.99 L997.21,1482.50 L997.21,1484.01 L997.21,1485.51 L997.21,1487.02 L997.21,1488.53 L997.22,1490.03 L997.22,1491.54 L997.22,1493.04 L997.23,1494.55 L997.23,1496.05 L997.24,1497.56 L997.25,1499.07 L997.25,1500.57 L997.26,1502.08 L997.27,1503.58 L997.27,1505.09 L997.28,1506.59 L997.29,1508.10 L997.30,1509.60 L997.31,1511.11 L997.32,1512.61 L997.33,1514.12 L997.34,1515.62 L997.35,1517.13 L997.36,1518.64 L997.37,1520.14 L997.38,1521.65 L997.39,1523.15 L997.40,1524.66 L997.41,1526.16 L997.43,1527.66 L997.44,1529.17 L997.45,1530.67 L997.46,1532.18 L997.48,1533.68 L997.49,1535.19 L997.51,1536.69 L997.52,1538.20 L997.53,1539.70 L997.55,1541.21 L997.56,1542.71 L997.58,1544.22 L997.59,1545.72 L997.61,1547.23 L997.62,1548.73 L997.64,1550.23 L997.65,1551.74 L997.67,1553.24 L997.69,1554.75 L997.70,1556.25 L997.72,1557.76 L997.74,1559.26 L997.75,1560.77 L997.77,1562.27 L997.78,1563.77 L997.80,1565.28 L997.82,1566.78 L997.83,1568.29 L997.85,1569.79 L997.87,1571.30 L997.89,1572.80 L997.90,1574.31 L997.92,1575.81 L997.94,1577.31 L997.95,1578.82 L997.97,1580.32 L997.99,1581.83 L998.01,1583.33 L998.02,1584.84 L998.04,1586.34 L998.06,1587.84 L998.07,1589.35 L998.09,1590.85 L998.11,1592.36 L998.12,1593.86 L998.14,1595.37 L998.16,1596.87 L998.17,1598.38 L998.19,1599.88 L998.21,1601.38 L998.22,1602.89 L998.24,1604.39 L998.25,1605.90 L998.27,1607.40 L998.29,1608.91 L998.30,1610.41 L998.32,1611.92 L998.33,1613.42 L998.35,1614.93 L998.36,1616.43 L998.38,1617.93 L998.39,1619.44 L998.41,1620.94 L998.42,1622.45 L998.43,1623.95 L998.45,1625.46 L998.46,1626.96 L998.47,1628.47 L998.49,1629.97 L998.50,1631.48 L998.51,1632.98 L998.52,1634.49 L998.54,1635.99 L998.55,1637.50 L998.56,1639.00 L998.57,1640.51 L998.58,1642.01 L998.59,1643.52 L998.60,1645.02 L998.61,1646.53 L998.62,1648.03 L998.63,1649.54 L998.64,1651.04 L998.65,1652.55 L998.65,1654.06 L998.66,1655.56 L998.67,1657.07 L998.67,1658.57 L998.68,1660.08 L998.69,1661.58 L998.69,1663.09 L998.70,1664.60 L998.70,1666.10 L998.71,1667.61 L998.71,1669.11 L998.71,1670.62 L998.72,1672.13 L998.72,1673.63 L998.72,1675.14 L998.72,1676.64 L998.72,1678.15 L998.72,1679.66 L998.72,1681.16 L998.72,1682.67 L998.72,1684.18 L998.72,1685.68 L998.72,1687.19 L998.71,1688.70 L998.71,1690.20 L998.71,1691.71 L998.70,1693.22 L998.70,1694.73 L998.69,1696.23 L998.68,1697.74 L998.68,1699.25 L998.67,1700.75 L998.66,1702.26 L998.65,1703.77 L998.64,1705.28 L998.63,1706.78 L998.62,1708.29 L998.61,1709.80 L998.60,1711.31 L998.59,1712.82 L998.57,1714.32 L998.56,1715.83 L998.54,1717.34 L998.53,1718.85 L998.51,1720.36 L998.49,1721.87 L998.48,1723.37 L998.46,1724.88 L998.44,1726.39 L998.42,1727.90 L998.40,1729.41 L998.38,1730.92 L998.36,1732.43 L998.33,1733.94 L998.31,1735.45 L998.29,1736.96 L998.27,1738.47 L998.25,1739.97 L998.23,1741.48 L998.21,1742.99 L998.20,1744.50 L998.19,1746.01 L998.19,1747.52 L998.18,1749.03 L998.19,1750.54 L998.19,1752.04 L998.20,1753.55 L998.22,1755.06 L998.25,1756.56 L998.28,1758.07 L998.31,1759.58 L998.36,1761.08 L998.41,1762.59 L998.47,1764.09 L998.54,1765.60 L998.62,1767.10 L998.71,1768.60 L998.80,1770.11 L998.91,1771.61 L999.03,1773.11 L999.16,1774.61 L999.30,1776.11 L999.46,1777.61 L999.62,1779.10 L999.80,1780.60 L1000.00,1782.10 L1000.20,1783.59 L1000.42,1785.09 L1000.66,1786.58 L1000.91,1788.07 L1001.18,1789.57 L1001.46,1791.06 L1001.76,1792.55 L1002.07,1794.04 L1002.41,1795.52 L1002.77,1796.99 L1003.16,1798.45 L1003.58,1799.89 L1004.05,1801.31 L1004.55,1802.70 L1005.10,1804.06 L1005.70,1805.38 L1006.36,1806.66 L1007.08,1807.90 L1007.86,1809.08 L1008.71,1810.21 L1009.64,1811.28 L1010.64,1812.28 L1011.72,1813.22 L1012.89,1814.08 L1014.15,1814.86 L1015.51,1815.57 L1016.94,1816.19 L1018.43,1816.75 L1019.96,1817.23 L1021.52,1817.65 L1023.09,1818.01 L1024.66,1818.32 L1026.20,1818.58 L1027.70,1818.80 L1027.80,1817.30 L1027.89,1815.81 L1027.98,1814.31 L1028.07,1812.82 L1028.16,1811.32 L1028.24,1809.82 L1028.32,1808.32 L1028.40,1806.83 L1028.48,1805.33 L1028.55,1803.83 L1028.62,1802.33 L1028.68,1800.83 L1028.75,1799.33 L1028.81,1797.83 L1028.87,1796.33 L1028.93,1794.83 L1028.98,1793.33 L1029.04,1791.83 L1029.09,1790.33 L1029.14,1788.82 L1029.19,1787.32 L1029.23,1785.82 L1029.28,1784.32 L1029.32,1782.82 L1029.36,1781.31 L1029.40,1779.81 L1029.43,1778.31 L1029.47,1776.80 L1029.50,1775.30 L1029.53,1773.79 L1029.57,1772.29 L1029.60,1770.79 L1029.62,1769.28 L1029.65,1767.78 L1029.68,1766.27 L1029.70,1764.77 L1029.73,1763.26 L1029.75,1761.76 L1029.77,1760.25 L1029.80,1758.75 L1029.82,1757.24 L1029.84,1755.73 L1029.86,1754.23 L1029.88,1752.72 L1029.89,1751.22 L1029.91,1749.71 L1029.93,1748.20 L1029.95,1746.70 L1029.97,1745.19 L1029.98,1743.68 L1030.00,1742.18 L1030.02,1740.67 L1030.03,1739.16 L1030.05,1737.66 L1030.07,1736.15 L1030.09,1734.64 L1030.10,1733.14 L1030.12,1731.63 L1030.14,1730.12 L1030.16,1728.62 L1030.18,1727.11 L1030.20,1725.60 L1030.22,1724.10 L1030.24,1722.59 L1030.26,1721.08 L1030.28,1719.57 L1030.30,1718.07 L1030.33,1716.56 L1030.35,1715.05 L1030.38,1713.55 L1030.41,1712.04 L1030.43,1710.53 L1030.46,1709.03 L1030.49,1707.52 L1030.53,1706.02 L1030.56,1704.51 L1030.59,1703.00 L1030.63,1701.50 L1030.67,1699.99 L1030.71,1698.49 L1030.75,1696.98 L1030.79,1695.48 L1030.84,1693.97 L1030.89,1692.47 L1030.93,1690.96 L1030.98,1689.46 L1031.04,1687.95 L1031.09,1686.45 L1031.15,1684.94 L1031.21,1683.44 L1031.27,1681.94 L1031.33,1680.43 L1031.40,1678.93 L1031.47,1677.43 L1031.54,1675.92 L1031.61,1674.42 L1031.69,1672.92 L1031.77,1671.42 L1031.85,1669.91 L1031.94,1668.41 L1032.03,1666.91 L1032.12,1665.41 L1032.21,1663.91 L1032.31,1662.41 L1032.41,1660.91 L1032.51,1659.41 L1032.62,1657.91 L1032.73,1656.41 L1032.84,1654.91 L1032.96,1653.41 L1033.08,1651.91 L1033.20,1650.42 L1033.33,1648.92 L1033.46,1647.42 L1033.60,1645.92 L1033.73,1644.43 L1033.88,1642.93 L1034.02,1641.44 L1034.17,1639.94 L1034.33,1638.44 L1034.49,1636.95 L1034.65,1635.46 L1034.82,1633.96 L1034.99,1632.47 L1035.17,1630.98 L1035.35,1629.48 L1035.53,1627.99 L1035.72,1626.50 L1035.91,1625.01 L1036.11,1623.52 L1036.32,1622.03 L1036.53,1620.54 L1036.74,1619.05 L1036.96,1617.56 L1037.18,1616.07 L1037.41,1614.58 L1037.64,1613.09 L1037.88,1611.61 L1038.12,1610.12 L1038.37,1608.64 L1038.62,1607.15 L1038.88,1605.67 L1039.15,1604.18 L1039.42,1602.70 L1039.70,1601.21 L1039.98,1599.73 L1040.26,1598.25 L1040.56,1596.77 L1040.86,1595.29 L1041.16,1593.81 L1041.47,1592.33 L1041.79,1590.85 L1042.11,1589.37 L1042.44,1587.89 L1042.78,1586.42 L1043.12,1584.94 L1043.47,1583.46 L1043.82,1581.99 L1044.18,1580.51 L1044.55,1579.04 L1044.92,1577.57 L1045.30,1576.09 L1045.69,1574.62 L1046.08,1573.15 L1046.48,1571.68 L1046.89,1570.22 L1047.31,1568.75 L1047.73,1567.29 L1048.16,1565.83 L1048.60,1564.37 L1049.05,1562.92 L1049.50,1561.46 L1049.97,1560.01 L1050.44,1558.57 L1050.92,1557.12 L1051.41,1555.69 L1051.90,1554.25 L1052.41,1552.82 L1052.93,1551.39 L1053.45,1549.97 L1053.98,1548.55 L1054.53,1547.13 L1055.08,1545.72 L1055.64,1544.32 L1056.21,1542.92 L1056.79,1541.52 L1057.38,1540.14 L1057.99,1538.75 L1058.60,1537.38 L1059.22,1536.01 L1059.85,1534.64 L1060.50,1533.28 L1061.15,1531.93 L1061.82,1530.59 L1062.49,1529.25 L1063.18,1527.92 L1063.88,1526.60 L1064.59,1525.28 L1065.31,1523.97 L1066.05,1522.67 L1066.79,1521.38 L1067.55,1520.10 L1068.32,1518.83 L1069.10,1517.56 L1069.90,1516.30 L1070.70,1515.05 L1071.52,1513.82 L1072.36,1512.59 L1073.20,1511.37 L1074.06,1510.16 L1074.93,1508.96 L1075.82,1507.77 L1076.72,1506.59 L1077.63,1505.42 L1078.55,1504.26 L1079.49,1503.11 L1080.44,1501.98 L1081.41,1500.85 L1082.39,1499.74 L1083.38,1498.63 L1084.38,1497.54 L1085.40,1496.46 L1086.42,1495.39 L1087.46,1494.33 L1088.51,1493.28 L1089.57,1492.24 L1090.65,1491.22 L1091.73,1490.20 L1092.82,1489.20 L1093.93,1488.21 L1095.04,1487.23 L1096.17,1486.26 L1097.30,1485.30 L1098.45,1484.36 L1099.60,1483.42 L1100.76,1482.50 L1101.93,1481.59 L1103.11,1480.69 L1104.30,1479.81 L1105.50,1478.93 L1106.70,1478.07 L1107.91,1477.22 L1109.13,1476.38 L1110.36,1475.55 L1111.59,1474.74 L1112.84,1473.94 L1114.08,1473.15 L1115.34,1472.37 L1116.60,1471.60 L1117.87,1470.85 L1119.14,1470.11 L1120.43,1469.38 L1121.71,1468.65 L1123.01,1467.94 L1124.31,1467.25 L1125.62,1466.56 L1126.93,1465.88 L1128.25,1465.21 L1129.57,1464.56 L1130.90,1463.91 L1132.24,1463.27 L1133.58,1462.65 L1134.93,1462.03 L1136.28,1461.42 L1137.64,1460.83 L1139.00,1460.24 L1140.37,1459.66 L1141.74,1459.09 L1143.12,1458.53 L1144.50,1457.98 L1145.89,1457.43 L1147.28,1456.90 L1148.68,1456.37 L1150.08,1455.85 L1151.49,1455.34 L1152.90,1454.84 L1154.31,1454.35 L1155.73,1453.86 L1157.15,1453.38 L1158.58,1452.91 L1160.01,1452.44 L1161.45,1451.99 L1162.88,1451.54 L1164.33,1451.09 L1165.77,1450.66 L1167.22,1450.23 L1168.67,1449.80 L1170.13,1449.39 L1171.58,1448.98 L1173.05,1448.57 L1174.51,1448.17 L1175.98,1447.78 L1177.45,1447.39 L1178.92,1447.01 L1180.39,1446.63 L1181.87,1446.26 L1183.35,1445.89 L1184.84,1445.53 L1186.32,1445.17 L1187.81,1444.82 L1189.30,1444.47 L1190.79,1444.13 L1192.28,1443.79 L1193.77,1443.46 L1195.27,1443.13 L1196.77,1442.80 L1198.27,1442.48 L1199.77,1442.16 L1201.27,1441.84 L1202.77,1441.53 L1204.28,1441.22 L1205.79,1440.91 L1207.29,1440.61 L1208.80,1440.30 L1210.31,1440.01 L1211.82,1439.71 L1213.33,1439.41 L1214.84,1439.12 L1216.35,1438.83 L1217.86,1438.54 L1219.37,1438.26 L1220.88,1437.97 L1222.39,1437.69 L1223.90,1437.41 L1225.42,1437.13 L1226.93,1436.85 L1228.44,1436.57 L1229.95,1436.29 L1231.46,1436.02 L1232.97,1435.74 L1234.48,1435.46 L1235.99,1435.19 L1237.49,1434.91 L1239.00,1434.63 L1240.51,1434.36 L1242.01,1434.08 L1243.51,1433.81 L1245.02,1433.53 L1246.52,1433.25 L1248.02,1432.98 L1249.52,1432.70 L1251.02,1432.43 L1252.52,1432.15 L1254.02,1431.88 L1255.52,1431.60 L1257.01,1431.32 L1258.51,1431.05 L1260.00,1430.77 L1261.50,1430.50 L1262.99,1430.23 L1264.48,1429.95 L1265.98,1429.68 L1267.47,1429.40 L1268.96,1429.13 L1270.45,1428.86 L1271.94,1428.58 L1273.43,1428.31 L1274.92,1428.04 L1276.40,1427.76 L1277.89,1427.49 L1279.38,1427.22 L1280.86,1426.95 L1282.35,1426.68 L1283.83,1426.41 L1285.32,1426.14 L1286.80,1425.87 L1288.29,1425.60 L1289.77,1425.33 L1291.25,1425.06 L1292.73,1424.79 L1294.21,1424.52 L1295.69,1424.26 L1297.17,1423.99 L1298.65,1423.72 L1300.13,1423.46 L1301.61,1423.19 L1303.09,1422.93 L1304.57,1422.66 L1306.05,1422.40 L1307.52,1422.13 L1309.00,1421.87 L1310.48,1421.61 L1311.96,1421.35 L1313.43,1421.09 L1314.91,1420.83 L1316.38,1420.57 L1317.86,1420.31 L1319.33,1420.05 L1320.81,1419.79 L1322.28,1419.54 L1323.76,1419.28 L1325.23,1419.03 L1326.70,1418.77 L1328.18,1418.52 L1329.65,1418.26 L1331.12,1418.01 L1332.60,1417.76 L1334.07,1417.51 L1335.54,1417.26 L1337.01,1417.01 L1338.49,1416.76 L1339.96,1416.51 L1341.43,1416.27 L1342.90,1416.02 L1344.37,1415.78 L1345.85,1415.53 L1347.32,1415.29 L1348.79,1415.05 L1350.26,1414.81 L1351.73,1414.57 L1353.20,1414.33 L1354.67,1414.09 L1356.15,1413.85 L1357.62,1413.61 L1359.09,1413.38 L1360.56,1413.15 L1362.03,1412.91 L1363.50,1412.68 L1364.98,1412.45 L1366.45,1412.22 L1367.92,1411.99 L1369.39,1411.76 L1370.86,1411.54 L1372.34,1411.31 L1373.81,1411.09 L1375.28,1410.86 L1376.75,1410.64 L1378.23,1410.42 L1379.70,1410.20 L1381.17,1409.98 L1382.65,1409.76 L1384.12,1409.55 L1385.59,1409.33 L1387.07,1409.12 L1388.54,1408.91 L1390.02,1408.70 L1391.49,1408.49 L1392.97,1408.28 L1394.44,1408.07 L1395.92,1407.87 L1397.40,1407.66 L1398.87,1407.46 L1400.35,1407.26 L1401.83,1407.06 L1403.30,1406.86 L1404.78,1406.66 L1406.26,1406.46 L1407.74,1406.27 L1409.22,1406.08 L1410.70,1405.88 L1412.18,1405.69 L1413.66,1405.51 L1415.14,1405.32 L1416.62,1405.13 L1418.10,1404.95 L1419.59,1404.77 L1421.07,1404.59 L1422.55,1404.41 L1424.04,1404.23 L1425.52,1404.05 L1427.01,1403.88 L1428.49,1403.70 L1429.98,1403.53 L1431.46,1403.36 L1432.95,1403.19 L1434.44,1403.03 L1435.93,1402.86 L1437.41,1402.70 L1438.90,1402.53 L1440.39,1402.37 L1441.88,1402.21 L1443.37,1402.05 L1444.86,1401.90 L1446.35,1401.74 L1447.85,1401.59 L1449.34,1401.43 L1450.83,1401.28 L1452.32,1401.13 L1453.82,1400.98 L1455.31,1400.84 L1456.80,1400.69 L1458.30,1400.54 L1459.79,1400.40 L1461.29,1400.26 L1462.78,1400.12 L1464.28,1399.98 L1465.78,1399.84 L1467.27,1399.70 L1468.77,1399.57 L1470.27,1399.43 L1471.77,1399.30 L1473.26,1399.17 L1474.76,1399.04 L1476.26,1398.91 L1477.76,1398.78 L1479.26,1398.65 L1480.76,1398.53 L1482.26,1398.40 L1483.76,1398.28 L1485.26,1398.16 L1486.76,1398.03 L1488.26,1397.91 L1489.77,1397.79 L1491.27,1397.68 L1492.77,1397.56 L1494.27,1397.44 L1495.78,1397.33 L1497.28,1397.22 L1498.78,1397.10 L1500.29,1396.99 L1501.79,1396.88 L1503.29,1396.77 L1504.80,1396.66 L1506.30,1396.56 L1507.81,1396.45 L1509.31,1396.34 L1510.82,1396.24 L1512.32,1396.14 L1513.83,1396.03 L1515.34,1395.93 L1516.84,1395.83 L1518.35,1395.73 L1519.86,1395.63 L1521.36,1395.53 L1522.87,1395.44 L1524.38,1395.34 L1525.88,1395.24 L1527.39,1395.15 L1528.90,1395.06 L1530.41,1394.96 L1531.92,1394.87 L1533.42,1394.78 L1534.93,1394.69 L1536.44,1394.60 L1537.95,1394.51 L1539.46,1394.42 L1540.97,1394.34 L1542.48,1394.25 L1543.98,1394.17 L1545.49,1394.08 L1547.00,1394.00 L1548.51,1393.91 L1550.02,1393.83 L1551.53,1393.75 L1553.04,1393.67 L1554.55,1393.59 L1556.06,1393.51 L1557.57,1393.43 L1559.08,1393.35 L1560.59,1393.27 L1562.10,1393.19 L1563.61,1393.12 L1565.12,1393.04 L1566.63,1392.96 L1568.14,1392.89 L1569.65,1392.81 L1571.16,1392.74 L1572.67,1392.67 L1574.18,1392.60 L1575.70,1392.52 L1577.21,1392.45 L1578.72,1392.38 L1580.23,1392.31 L1581.74,1392.24 L1583.25,1392.17 L1584.76,1392.10 L1586.27,1392.03 L1587.78,1391.96 L1589.29,1391.90 L1590.80,1391.83 L1592.31,1391.76 L1593.82,1391.70 L1595.33,1391.63 L1596.84,1391.56 L1598.35,1391.50 L1599.86,1391.43 L1601.37,1391.37 L1602.88,1391.30 L1604.39,1391.24 L1605.90,1391.18 L1607.41,1391.11 L1608.92,1391.05 L1610.43,1390.99 L1611.94,1390.93 L1613.45,1390.86 L1614.96,1390.80 L1616.47,1390.74 L1617.97,1390.68 L1619.48,1390.62 L1620.99,1390.56 L1622.50,1390.50 L1624.01,1390.44 L1625.52,1390.38 L1627.02,1390.32 L1628.53,1390.26 L1630.04,1390.20 L1631.55,1390.14 L1633.05,1390.08 L1634.56,1390.02 L1636.07,1389.96 L1637.58,1389.90 L1639.08,1389.85 L1640.59,1389.79 L1642.09,1389.73 L1643.60,1389.67 L1645.11,1389.61 L1646.61,1389.55 L1648.12,1389.50 L1649.62,1389.44 L1651.13,1389.38 L1652.63,1389.32 L1654.14,1389.26 L1655.64,1389.21 L1657.14,1389.15 L1658.65,1389.09 L1660.15,1389.03 L1661.65,1388.97 L1663.16,1388.91 L1664.66,1388.86 L1666.16,1388.80 L1667.66,1388.74 L1669.17,1388.68 L1670.67,1388.62 L1672.17,1388.56 L1673.67,1388.51 L1675.17,1388.45 L1676.67,1388.39 L1678.17,1388.33 L1679.67,1388.27 L1681.17,1388.21 L1682.67,1388.15 L1684.16,1388.09 L1685.66,1388.03 L1687.16,1387.97 L1688.66,1387.91 L1690.16,1387.85 L1691.65,1387.79 L1693.15,1387.73 L1694.64,1387.66 L1696.14,1387.60 L1697.63,1387.54 L1699.13,1387.48 L1700.62,1387.42 L1702.12,1387.35 L1703.61,1387.29 L1705.10,1387.23 L1706.60,1387.16 L1708.09,1387.10 L1709.58,1387.03 L1711.07,1386.97 L1712.56,1386.90 L1714.05,1386.84 L1715.54,1386.77 L1717.03,1386.70 L1718.52,1386.64 L1720.01,1386.57 L1721.50,1386.50" fill="none" stroke="#FF0000" stroke-width="4.1" stroke-linejoin="miter" stroke-miterlimit="6" stroke-linecap="butt"/>
<text x="130.65" y="1178.00" font-size="59" fill="#000">1000</text>
<text x="160.25" y="1377.50" font-size="59" fill="#000">100</text>
<text x="193.45" y="1576.30" font-size="59" fill="#000">10</text>
<text x="218.34" y="1779.00" font-size="59" fill="#000">1</text>
<text x="176.29" y="1963.20" font-size="59" fill="#000">0.1</text>
<text x="264.35" y="2020.00" font-size="59" fill="#000">0</text>
<text x="384.18" y="2020.00" font-size="59" fill="#000">2</text>
<text x="504.33" y="2020.00" font-size="59" fill="#000">4</text>
<text x="624.76" y="2020.00" font-size="59" fill="#000">6</text>
<text x="746.75" y="2020.00" font-size="59" fill="#000">8</text>
<text x="856.63" y="2020.00" font-size="59" fill="#000">10</text>
<text x="979.03" y="2020.00" font-size="59" fill="#000">12</text>
<text x="1097.57" y="2020.00" font-size="59" fill="#000">14</text>
<text x="1218.69" y="2020.00" font-size="59" fill="#000">16</text>
<text x="1338.43" y="2020.00" font-size="59" fill="#000">18</text>
<text x="1459.33" y="2020.00" font-size="59" fill="#000">20</text>
<text x="1579.33" y="2020.00" font-size="59" fill="#000">22</text>
<text x="1700.16" y="2020.00" font-size="59" fill="#000">24</text>
<text x="367.48" y="1646.00" font-size="52" fill="#FF0000" >5ppb</text>
<text x="500.24" y="1666.80" font-size="50.8" fill="#FF0000" >10ppb</text>
<text x="650.78" y="1736.60" font-size="52" fill="#FF0000" >50ppb</text>
<text x="791.55" y="1803.80" font-size="51.2" fill="#FF0000" >200ppb</text>
<text x="943.28" y="1887.20" font-size="52" fill="#FF0000" >500ppb</text>
<text x="1071.71" y="1211.60" font-size="58.6" fill="#000" >H<tspan font-size="48" dy="-9.8">₂</tspan><tspan dy="9.8">S, S4, 5%RH, at 325 °C</tspan></text>
<text x="33.99" y="1179.20" font-size="64" fill="#000" font-weight="bold" >(b)</text>
<text x="877.18" y="2112.00" font-size="67.4" fill="#000" >Time (h)</text>
<text transform="translate(110.20,1821.54) rotate(-90)" font-size="67.4" fill="#000">Resistance (MΩ)</text>
</svg>
</body></html>
